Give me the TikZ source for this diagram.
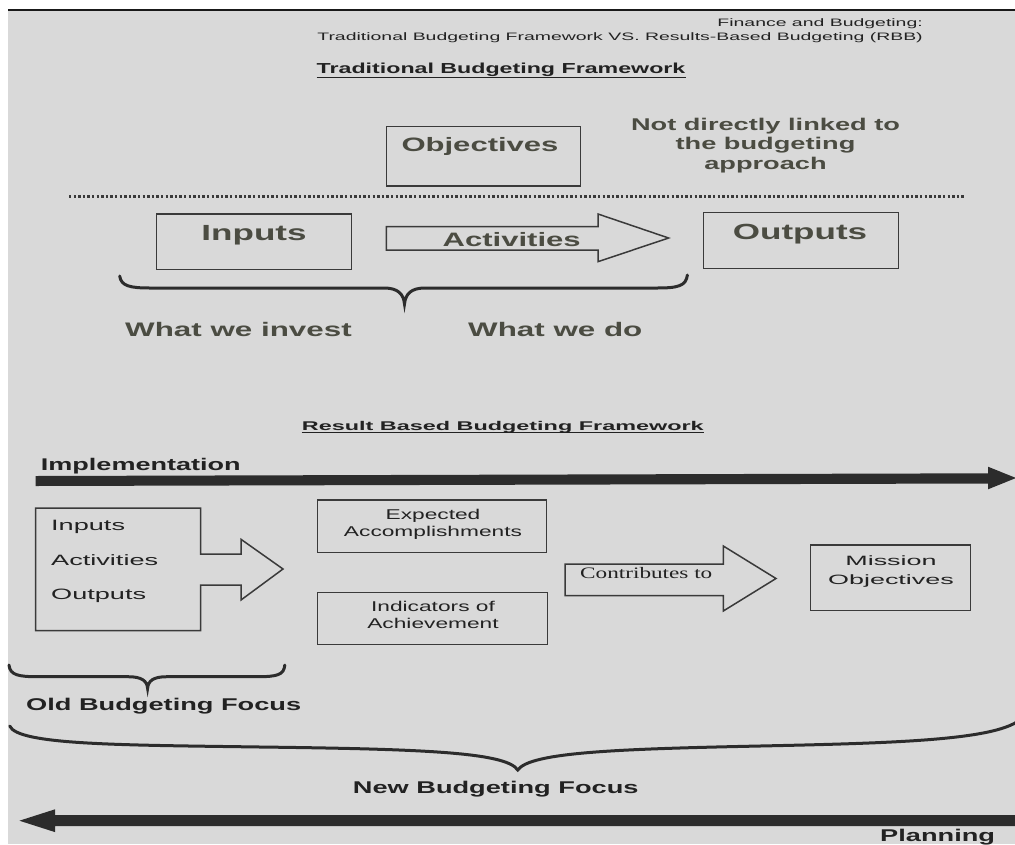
\documentclass[tikz,border=0pt]{standalone}
\usepackage{fontspec}
\setmainfont{Liberation Sans}[FakeStretch=1.6]
\newfontfamily\widesans{Liberation Sans}[FakeStretch=1.85]
\newfontfamily\wideserif{Liberation Serif}[FakeStretch=1.45]
\newcommand\hstr[2]{\scalebox{#1}[1]{#2}}
\definecolor{bg}{HTML}{D9D9D9}
\definecolor{ink}{HTML}{222222}
\definecolor{olive}{HTML}{4B4C42}
\definecolor{edge}{HTML}{3A3A3A}
\definecolor{bar}{HTML}{2C2C2C}
\tikzset{
  txt/.style={inner sep=0pt, anchor=base, text=ink},
  fsz/.style={font=\fontsize{#1}{#1}\selectfont},
  bsz/.style={font=\fontsize{#1}{#1}\selectfont\bfseries},
  boxx/.style={draw=edge, line width=1.5pt, inner sep=0pt},
  bigarrow/.style={draw=edge, line width=1.5pt, line join=miter},
  solidbar/.style={fill=bar, draw=none},
  bracepath/.style={draw=bar, line width=3pt, line cap=round},
  uline/.style={draw=ink, line width=1.4pt}
}
\begin{document}
\begin{tikzpicture}[x=1pt,y=-1pt]
\useasboundingbox (0,0) rectangle (1015,844);
\fill[white] (0,0) rectangle (1015,844);
\fill[bg] (8,10) rectangle (1015,844);
\draw[line width=2pt, black!90] (8,9.5) -- (1015,9.5);

% header
\node[txt, anchor=base east, fsz=10.8] (fin) at (923,26) {\hstr{1.125}{Finance and Budgeting:}};
\node[txt, anchor=base east, fsz=10.8] (sub) at (923,40) {\hstr{1.125}{Traditional Budgeting Framework VS. Results-Based Budgeting (RBB)}};
\node[txt, anchor=base west, bsz=14.5] (trad) at (316.5,73.3) {Traditional Budgeting Framework};
\draw[uline] ([yshift=-4pt]trad.base west) -- ([yshift=-4pt]trad.base east);

% traditional framework
\node[boxx, minimum width=194.2pt, minimum height=59.3pt] (objbox) at (483.5,156.35) {};
\node[txt, bsz=19.4, text=olive] (objtxt) at (480,151.7) {Objectives};
\node[txt, bsz=17, text=olive] (nd1) at (765.5,130) {Not directly linked to};
\node[txt, bsz=17, text=olive] (nd2) at (765.5,149.5) {the budgeting};
\node[txt, bsz=17, text=olive] (nd3) at (765.5,169) {approach};

\coordinate (dotL) at (69,196.7);
\coordinate (dotR) at (964.4,196.7);
\draw[edge, line width=3.2pt, dash pattern=on 2.4pt off 2.2pt] (dotL) -- (dotR);

\node[boxx, minimum width=194.9pt, minimum height=55.3pt] (inbox) at (254.05,241.65) {};
\node[txt, bsz=21.9, text=olive] (intxt) at (254,240) {Inputs};
\draw[bigarrow] (386.4,226.7) -- (598,226.7) -- (598,214) -- (668.6,238) -- (598,261.7) -- (598,250) -- (386.4,250) -- cycle;
\node[txt, bsz=19.4, text=olive] (acttxt) at (511.7,246.7) {Activities};
\node[boxx, minimum width=194.8pt, minimum height=56pt] (outbox) at (801,240.7) {};
\node[txt, bsz=21.9, text=olive] (outtxt) at (800,239) {Outputs};

\draw[bracepath] (119.7,276) .. controls (121,286) and (130,288) .. (150,288) -- (384,288)
  .. controls (398,288) and (403.5,294) .. (404.5,304)
  .. controls (405.5,294) and (411,288) .. (425,288) -- (657,288)
  .. controls (678,288) and (686,286) .. (687.4,275);
\node[txt, anchor=base west, bsz=19.6, text=olive] (wwi) at (125,336.7) {What we invest};
\node[txt, anchor=base west, bsz=19.6, text=olive] (wwd) at (468,336.7) {What we do};

% result based framework
\node[txt, anchor=base west, font=\fontsize{12.65}{12.65}\selectfont\widesans\bfseries] (rbb) at (301.7,430) {Result Based Budgeting Framework};
\draw[uline] ([yshift=-2.6pt]rbb.base west) -- ([yshift=-2.6pt]rbb.base east);

\node[txt, anchor=base west, bsz=16.9] (impl) at (40.7,470) {Implementation};
\fill[solidbar] (35.6,476) -- (988,473.3) -- (988,466.7) -- (1016,478) -- (988,489.3) -- (988,483.5) -- (35.6,486) -- cycle;

\draw[bigarrow] (35.6,508) -- (200.5,508) -- (200.5,554) -- (241,554) -- (241,539.3) -- (283,569) -- (241,600) -- (241,585) -- (200.5,585) -- (200.5,630.7) -- (35.6,630.7) -- cycle;
\node[txt, anchor=base west, fsz=15] (ia1) at (51,530.7) {\hstr{1.13}{Inputs}};
\node[txt, anchor=base west, fsz=15] (ia2) at (51,565.7) {\hstr{1.13}{Activities}};
\node[txt, anchor=base west, fsz=15] (ia3) at (51,599.3) {\hstr{1.13}{Outputs}};

\node[boxx, minimum width=229.4pt, minimum height=52.3pt] (eabox) at (432,526.15) {};
\node[txt, fsz=14.2] (ea1) at (433,519.3) {Expected};
\node[txt, fsz=14.2] (ea2) at (433,536) {Accomplishments};
\node[boxx, minimum width=230.2pt, minimum height=51.8pt] (ioabox) at (432.6,618.4) {};
\node[txt, fsz=14.2] (ioa1) at (433,611.7) {Indicators of};
\node[txt, fsz=14.2] (ioa2) at (433,628.3) {Achievement};

\draw[bigarrow] (565,564) -- (723.3,564) -- (723.3,546) -- (776,578.5) -- (723.3,611) -- (723.3,595.7) -- (565,595.7) -- cycle;
\node[txt, anchor=base west, font=\fontsize{16}{16}\selectfont\wideserif] (contrib) at (580,578.3) {Contributes to};

\node[boxx, minimum width=160pt, minimum height=65.7pt] (mobox) at (890.7,577.85) {};
\node[txt, fsz=13.5] (mo1) at (891,565.3) {\hstr{1.247}{Mission}};
\node[txt, fsz=13.5] (mo2) at (891,584.3) {\hstr{1.247}{Objectives}};

\draw[bracepath] (9,665) .. controls (10,675) and (18,676.7) .. (38,676.7) -- (128,676.7)
  .. controls (142,676.7) and (147,681) .. (147.6,688.3)
  .. controls (148.2,681) and (153,676.7) .. (167,676.7) -- (257,676.7)
  .. controls (277,676.7) and (284,675) .. (284.8,665);
\node[txt, anchor=base west, bsz=17] (old) at (26,710.7) {Old Budgeting Focus};

\draw[bracepath] (9.7,726) .. controls (18,745) and (120,745) .. (260,747)
  .. controls (420,749) and (506,752) .. (517.8,770)
  .. controls (530,752) and (620,749) .. (760,746)
  .. controls (900,743) and (1000,740) .. (1022,718);
\node[txt, anchor=base west, bsz=17] (new) at (352.7,793.3) {New Budgeting Focus};

\fill[solidbar] (19.4,820.7) -- (55,809.3) -- (55,815) -- (1016,815) -- (1016,826) -- (55,826) -- (55,832.1) -- cycle;
\node[txt, anchor=base west, bsz=17] (plan) at (880,841.5) {Planning};
\end{tikzpicture}
\end{document}
